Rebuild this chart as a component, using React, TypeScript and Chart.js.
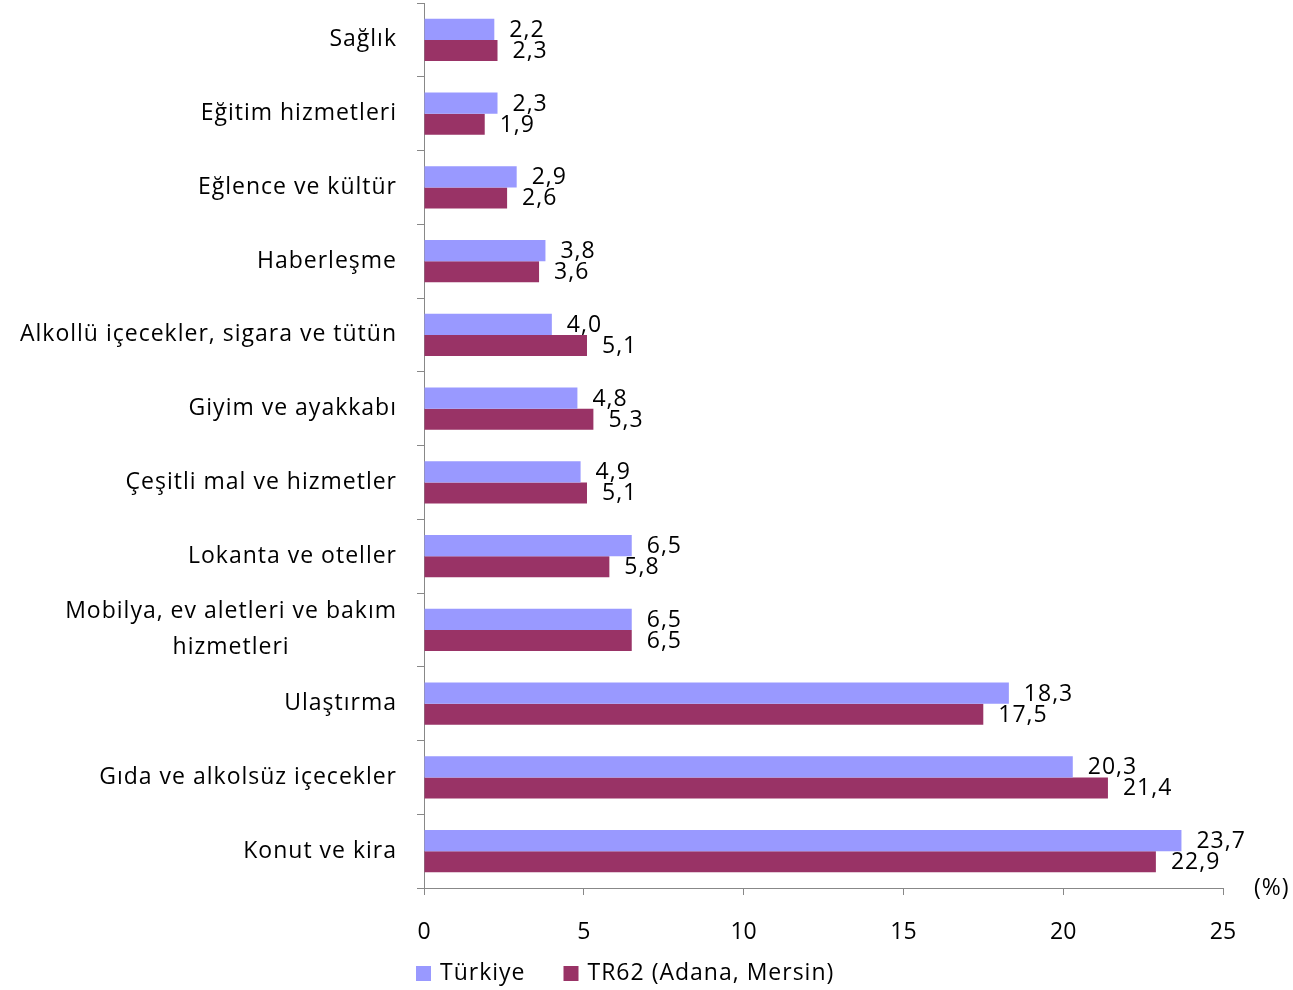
import React, { useEffect, useRef } from "react";
import { Chart, registerables } from "chart.js";

Chart.register(...registerables);

const categories: (string | string[])[] = [
  "Sağlık",
  "Eğitim hizmetleri",
  "Eğlence ve kültür",
  "Haberleşme",
  "Alkollü içecekler, sigara ve tütün",
  "Giyim ve ayakkabı",
  "Çeşitli mal ve hizmetler",
  "Lokanta ve oteller",
  ["Mobilya, ev aletleri ve bakım", "hizmetleri"],
  "Ulaştırma",
  "Gıda ve alkolsüz içecekler",
  "Konut ve kira",
];

const turkiye = [2.2, 2.3, 2.9, 3.8, 4.0, 4.8, 4.9, 6.5, 6.5, 18.3, 20.3, 23.7];
const tr62 = [2.3, 1.9, 2.6, 3.6, 5.1, 5.3, 5.1, 5.8, 6.5, 17.5, 21.4, 22.9];

const seriesNames = ["Türkiye", "TR62 (Adana, Mersin)"];
const seriesColors = ["#9999FF", "#993366"];
const xMin = 0;
const xMax = 25;
const xStep = 5;
const unitLabel = "(%)";

const FONT = "'Open Sans'";
const FS = 23;
const LS = "1px";

export default function App() {
  const ref = useRef<HTMLCanvasElement | null>(null);

  useEffect(() => {
    if (!ref.current) return;

    const valueLabels = {
      id: "valueLabels",
      afterDatasetsDraw(chart: any) {
        const ctx = chart.ctx;
        ctx.save();
        ctx.font = `${FS}px ${FONT}`;
        (ctx as any).letterSpacing = LS;
        ctx.fillStyle = "#000";
        ctx.textAlign = "left";
        ctx.textBaseline = "middle";
        chart.data.datasets.forEach((ds: any, di: number) => {
          const meta = chart.getDatasetMeta(di);
          meta.data.forEach((el: any, i: number) => {
            const v = ds.data[i] as number;
            ctx.fillText(v.toFixed(1).replace(".", ","), el.x + 15, el.y + 1);
          });
        });
        ctx.restore();
      },
    };

    const extras = {
      id: "extras",
      afterDraw(chart: any) {
        const ctx = chart.ctx;
        const ys = chart.scales.y;
        ctx.save();
        ctx.font = `${FS}px ${FONT}`;
        (ctx as any).letterSpacing = LS;
        ctx.fillStyle = "#000";
        ctx.textBaseline = "middle";
        const rightX = 397;
        const lh = 36;
        categories.forEach((c, i) => {
          const y = ys.getPixelForValue(i);
          const lines = Array.isArray(c) ? c : [c];
          const widths = lines.map((l) => ctx.measureText(l).width);
          const maxW = Math.max(...widths);
          const cx = rightX - maxW / 2;
          lines.forEach((l, li) => {
            const ly = y + (li - (lines.length - 1) / 2) * lh;
            ctx.textAlign = "center";
            ctx.fillText(l, cx, ly);
          });
        });
        // unit label
        ctx.textAlign = "left";
        ctx.fillText(unitLabel, 1254, 888);
        // legend
        let x = 416;
        const ly = 973;
        seriesNames.forEach((n, i) => {
          ctx.fillStyle = seriesColors[i];
          ctx.fillRect(x, ly - 7, 15, 15);
          ctx.fillStyle = "#000";
          ctx.fillText(n, x + 24, ly);
          x += 24 + ctx.measureText(n).width + 38;
        });
        ctx.restore();
      },
    };

    const chart = new Chart(ref.current, {
      type: "bar",
      data: {
        labels: categories as any,
        datasets: seriesNames.map((n, i) => ({
          label: n,
          data: i === 0 ? turkiye : tr62,
          backgroundColor: seriesColors[i],
          borderWidth: 0,
          categoryPercentage: 0.57,
          barPercentage: 1,
        })),
      },
      options: {
        indexAxis: "y",
        animation: false,
        responsive: true,
        maintainAspectRatio: false,
        layout: { padding: { top: 3, right: 70, left: 0, bottom: 0 } },
        plugins: {
          legend: { display: false },
          tooltip: { enabled: false },
        },
        scales: {
          x: {
            min: xMin,
            max: xMax,
            ticks: {
              stepSize: xStep,
              color: "#000",
              font: { family: "Open Sans", size: FS },
              padding: 24,
            },
            grid: {
              drawOnChartArea: false,
              drawTicks: true,
              tickLength: 7,
              color: "#888",
            },
            border: { color: "#888", width: 1 },
            afterFit(scale: any) {
              scale.height = 102;
            },
          },
          y: {
            ticks: {
              display: false,
            },
            grid: {
              drawOnChartArea: false,
              drawTicks: true,
              tickLength: 7,
              offset: true,
              color: "#888",
            },
            border: { color: "#888", width: 1 },
            afterFit(scale: any) {
              scale.width = 424;
            },
          },
        },
      } as any,
      plugins: [valueLabels, extras],
    });

    return () => chart.destroy();
  }, []);

  return (
    <div style={{ position: "fixed", left: 0, top: 0, width: 1293, height: 990, background: "#fff" }}>
      <canvas ref={ref} />
    </div>
  );
}
